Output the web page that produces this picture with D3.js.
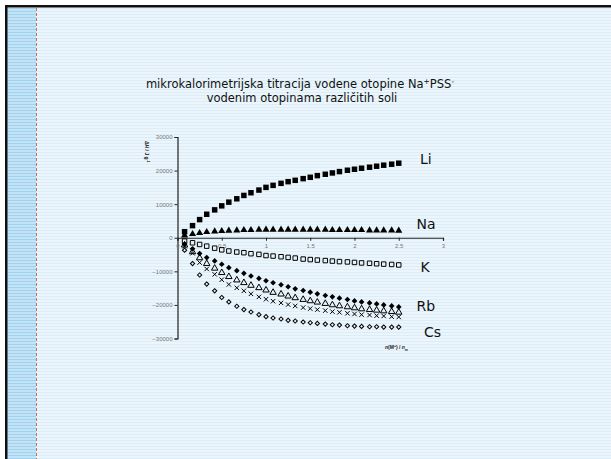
<!DOCTYPE html>
<html>
<head>
<meta charset="utf-8">
<script src="https://cdn.jsdelivr.net/npm/d3@7"></script>
<style>
  body { margin: 0; background: #fff; }
  svg { display: block; font-family: "DejaVu Sans", Verdana, sans-serif; }
</style>
</head>
<body>
<svg width="611" height="459"></svg>
<script>
// n(M+)/n_m for each titration step
const xVals = [0.08, 0.17, 0.25, 0.33, 0.42, 0.50, 0.58, 0.67, 0.75, 0.83,
  0.92, 1.00, 1.08, 1.17, 1.25, 1.33, 1.42, 1.50, 1.58, 1.67,
  1.75, 1.83, 1.92, 2.00, 2.08, 2.17, 2.25, 2.33, 2.42, 2.50]

const li = [1800, 3600, 5400, 7000, 8300, 9500, 10600, 11600, 12600, 13400,
  14200, 15000, 15600, 16200, 16700, 17100, 17600, 18000, 18500, 18900,
  19300, 19700, 20100, 20400, 20700, 21000, 21300, 21600, 21900, 22200]
const na = [700, 1100, 1400, 1700, 1900, 2000, 2100, 2200, 2300, 2300,
  2400, 2400, 2400, 2400, 2400, 2400, 2400, 2400, 2400, 2400,
  2300, 2300, 2300, 2300, 2300, 2200, 2200, 2200, 2200, 2100]
const k = [-1000, -1500, -2000, -2500, -3100, -3600, -3950, -4250, -4450, -4750,
  -4950, -5300, -5450, -5650, -5850, -6050, -6350, -6500, -6650, -6800,
  -6950, -7100, -7200, -7350, -7500, -7600, -7750, -7850, -7950, -8100]
const rb = [-1900, -3300, -4700, -5900, -6900, -7900, -8900, -9800, -10600, -11400,
  -12100, -12800, -13400, -14000, -14600, -15200, -15700, -16200, -16700, -17200,
  -17600, -18000, -18400, -18800, -19100, -19400, -19700, -20000, -20300, -20600]
const rbTri = [-2200, -4200, -6000, -7700, -9100, -10400, -11600, -12600, -13400, -14200,
  -14900, -15600, -16300, -16800, -17400, -17900, -18400, -18800, -19200, -19600,
  -20000, -20300, -20600, -20900, -21200, -21400, -21600, -21800, -22000, -22200]
const rbX = [-2500, -4600, -7400, -9300, -10900, -12500, -13900, -14900, -15800, -16700,
  -17600, -18300, -18900, -19400, -19900, -20300, -20800, -21100, -21400, -21700,
  -22000, -22200, -22500, -22700, -22900, -23000, -23200, -23300, -23500, -23600]
const cs = [-3700, -7700, -11100, -13800, -15800, -17800, -19100, -20400, -21400, -22100,
  -22900, -23500, -23900, -24200, -24600, -24800, -25100, -25300, -25500, -25700,
  -25900, -26000, -26200, -26300, -26400, -26500, -26500, -26600, -26600, -26600]

const yTicks = [-30000, -20000, -10000, 0, 10000, 20000, 30000]
const xTicks = [0, 0.5, 1, 1.5, 2, 2.5, 3]
const seriesNames = ['Li', 'Na', 'K', 'Rb', 'Cs']
const titleLines = ['mikrokalorimetrijska titracija vodene otopine Na', 'vodenim otopinama različitih soli']

const svg = d3.select('svg')
const defs = svg.append('defs')

// slide background: faint horizontal ruling
const bg = defs.append('pattern').attr('id', 'rule')
  .attr('width', 4).attr('height', 3).attr('patternUnits', 'userSpaceOnUse')
bg.append('rect').attr('width', 4).attr('height', 3).attr('fill', '#ebf5fb')
bg.append('rect').attr('y', 2).attr('width', 4).attr('height', 1).attr('fill', '#dbeef8')

const strip = defs.append('pattern').attr('id', 'strip')
  .attr('width', 4).attr('height', 3).attr('patternUnits', 'userSpaceOnUse')
strip.append('rect').attr('width', 4).attr('height', 3).attr('fill', '#c4e4f5')
strip.append('rect').attr('y', 2).attr('width', 4).attr('height', 1).attr('fill', '#9fd2ee')

svg.append('rect').attr('x', 5).attr('y', 5).attr('width', 606).attr('height', 454).attr('fill', 'url(#rule)')
svg.append('rect').attr('x', 7).attr('y', 8).attr('width', 29).attr('height', 451).attr('fill', 'url(#strip)')
svg.append('line').attr('x1', 36.5).attr('x2', 36.5).attr('y1', 8).attr('y2', 459)
  .attr('stroke', '#c0705a').attr('stroke-width', 1).attr('stroke-dasharray', '3,2')
svg.append('rect').attr('x', 5).attr('y', 5).attr('width', 606).attr('height', 2.5).attr('fill', '#111')
svg.append('rect').attr('x', 5).attr('y', 5).attr('width', 2.5).attr('height', 454).attr('fill', '#111')

// title
const title = svg.append('text').attr('text-anchor', 'middle').attr('font-size', 11.5).attr('fill', '#111')
const t1 = title.append('tspan').attr('x', 300).attr('y', 88)
t1.append('tspan').text(titleLines[0])
t1.append('tspan').attr('font-size', 7.5).attr('dy', -4).text('+')
t1.append('tspan').attr('dy', 4).text('PSS')
t1.append('tspan').attr('font-size', 7.5).attr('dy', -4).text('-')
title.append('tspan').attr('x', 302).attr('y', 101.5).text(titleLines[1])

const x = d3.scaleLinear().domain([0, 3]).range([177.5, 443])
const y = d3.scaleLinear().domain([-30000, 30000]).range([338.5, 137])

const yAxis = svg.append('g').attr('transform', `translate(${x(0)},0)`)
  .call(d3.axisLeft(y).tickValues(yTicks).tickSize(3).tickPadding(2).tickFormat(d3.format('d')))
const xAxis = svg.append('g').attr('transform', `translate(0,${y(0)})`)
  .call(d3.axisBottom(x).tickValues(xTicks).tickSize(3).tickPadding(3).tickFormat(d => d))
for (const ax of [xAxis, yAxis]) {
  ax.select('.domain').attr('stroke', '#222').attr('stroke-width', 1.2)
  ax.selectAll('.tick line').attr('stroke', '#222')
  ax.selectAll('.tick text').attr('font-size', 6).attr('fill', '#777')
    .attr('font-family', '"Liberation Sans", Arial, sans-serif')
}

// axis titles
svg.append('text').attr('transform', 'translate(145,141) rotate(90)')
  .attr('font-size', 5).attr('font-weight', 'bold').attr('fill', '#222')
  .attr('font-family', '"Liberation Sans", Arial, sans-serif')
  .html('Δ<tspan font-style="italic">H</tspan> / J g<tspan font-size="3.5" dy="-2">-1</tspan>')
svg.append('text').attr('x', 385).attr('y', 349)
  .attr('font-size', 5).attr('font-weight', 'bold').attr('fill', '#222')
  .attr('font-family', '"Liberation Sans", Arial, sans-serif')
  .html('<tspan font-style="italic">n</tspan>(M<tspan font-size="3.5" dy="-2">+</tspan><tspan dy="2">) / </tspan><tspan font-style="italic">n</tspan><tspan font-size="3.5" dy="1.5">m</tspan>')

// markers
function crossPath(s) {
  return `M${-s},${-s}L${s},${s}M${-s},${s}L${s},${-s}`
}
const series = [
  { vals: li, sym: d3.symbolSquare, size: 30, rot: 0, fill: '#000', stroke: 'none' },
  { vals: na, sym: d3.symbolTriangle, size: 22, rot: 0, fill: '#000', stroke: 'none' },
  { vals: k, sym: d3.symbolSquare, size: 20, rot: 0, fill: 'none', stroke: '#000' },
  { vals: rb, sym: d3.symbolSquare, size: 16, rot: 45, fill: '#000', stroke: 'none' },
  { vals: rbTri, sym: d3.symbolTriangle, size: 18, rot: 0, fill: 'none', stroke: '#000' },
  { vals: rbX, sym: null, size: 2.2, rot: 0, fill: 'none', stroke: '#000' },
  { vals: cs, sym: d3.symbolSquare, size: 9, rot: 45, fill: 'none', stroke: '#000' }
]
for (const s of series) {
  const path = s.sym ? d3.symbol().type(s.sym).size(s.size)() : crossPath(s.size)
  svg.append('g').selectAll('path').data(s.vals).join('path')
    .attr('transform', (d, i) => `translate(${x(xVals[i])},${y(d)}) rotate(${s.rot})`)
    .attr('d', path)
    .attr('fill', s.fill).attr('stroke', s.stroke).attr('stroke-width', 1)
}

// series labels at the right end
const labelPos = [[420, 164], [416.5, 229], [420.5, 272], [416.5, 311], [424, 337]]
svg.append('g').selectAll('text').data(seriesNames).join('text')
  .attr('x', (d, i) => labelPos[i][0]).attr('y', (d, i) => labelPos[i][1])
  .attr('font-size', 14).attr('fill', '#111')
  .text(d => d)
</script>
</body>
</html>
